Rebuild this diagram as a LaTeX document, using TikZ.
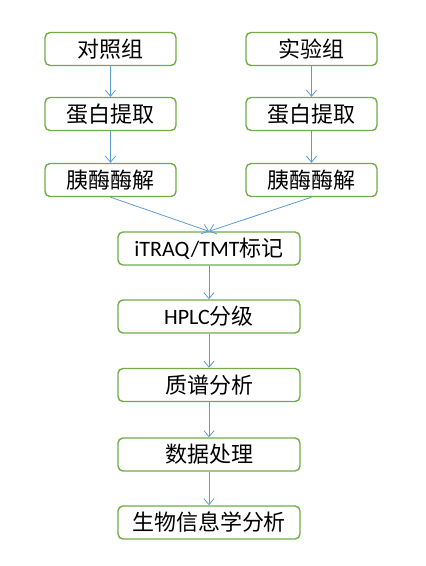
\documentclass[tikz,border=0pt]{standalone}
\usepackage{fontspec}
\setmainfont{Carlito}
\newfontfamily\cjk{Noto Sans CJK SC}
\usetikzlibrary{arrows.meta}
\definecolor{boxgreen}{HTML}{70AD47}
\definecolor{arrowblue}{HTML}{5B9BD5}
\begin{document}
\begin{tikzpicture}[x=1pt,y=-1pt,
  box/.style={draw=boxgreen,line width=1.4pt,rounded corners=5pt,fill=white,
    minimum height=33pt,inner sep=0pt,font=\fontsize{22}{24}\selectfont\cjk},
  sbox/.style={box,minimum width=131pt},
  wbox/.style={box,minimum width=182pt},
  conn/.style={draw=arrowblue,line width=0.8pt,-{Straight Barb[length=6pt,width=10pt]}}]
\useasboundingbox (0,0) rectangle (426,566);
\node[sbox] (l1) at (110.5,49) {对照组};
\node[sbox] (l2) at (110.5,114) {蛋白提取};
\node[sbox] (l3) at (110.5,180) {胰酶酶解};
\node[sbox] (r1) at (311.5,49) {实验组};
\node[sbox] (r2) at (311.5,114) {蛋白提取};
\node[sbox] (r3) at (311.5,180) {胰酶酶解};
\node[wbox] (c1) at (209,248.5) {{\fontsize{22}{24}\selectfont\rmfamily iTRAQ/TMT}标记};
\node[wbox] (c2) at (209,316.5) {{\fontsize{22}{24}\selectfont\rmfamily HPLC}分级};
\node[wbox] (c3) at (209,385) {质谱分析};
\node[wbox] (c4) at (209,454.5) {数据处理};
\node[wbox] (c5) at (209,522.5) {生物信息学分析};
\draw[conn] (l1) -- (l2);
\draw[conn] (l2) -- (l3);
\draw[conn] (r1) -- (r2);
\draw[conn] (r2) -- (r3);
\draw[conn] (l3.south) -- (c1.north);
\draw[conn] (r3.south) -- (c1.north);
\draw[conn] (c1) -- (c2);
\draw[conn] (c2) -- (c3);
\draw[conn] (c3) -- (c4);
\draw[conn] (c4) -- (c5);
\end{tikzpicture}
\end{document}
